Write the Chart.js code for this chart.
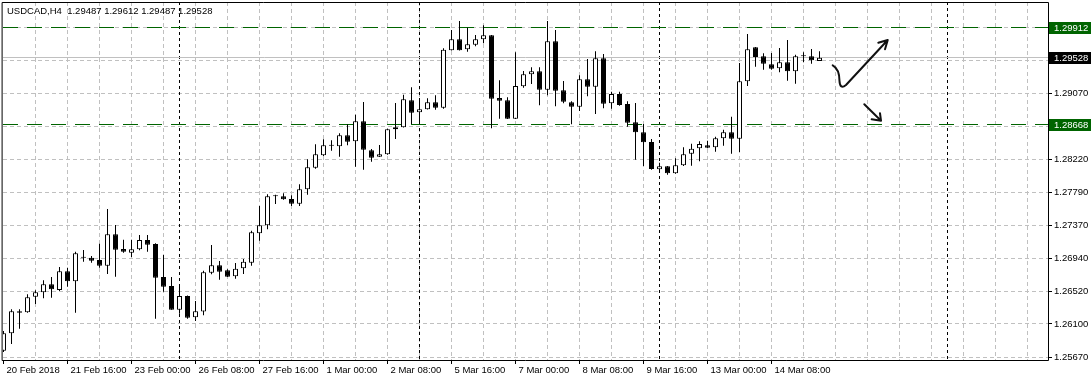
<!DOCTYPE html>
<html>
<head>
<meta charset="utf-8">
<script src="https://cdn.jsdelivr.net/npm/chart.js@4.4.1/dist/chart.umd.min.js"></script>
<style>
  html, body { margin: 0; padding: 0; background: #fff; }
  #wrap { width: 1091px; height: 381px; }
</style>
</head>
<body>
<div id="wrap"><canvas id="chart" width="1091" height="381"></canvas></div>
<script>
const symbolTitle = 'USDCAD,H4  1.29487 1.29612 1.29487 1.29528';

// USDCAD H4 candles, 20 Feb 08:00 .. 14 Mar 2018
const opens = [
  1.25755, 1.25979, 1.26263, 1.26250, 1.26451, 1.26507, 1.26610, 1.26537, 1.26778, 1.26649,
  1.26952, 1.26953, 1.26923, 1.26850, 1.27254, 1.27065, 1.27017, 1.27061, 1.27181, 1.27129,
  1.26704, 1.26588, 1.26283, 1.26460, 1.26185, 1.26260, 1.26760, 1.26855, 1.26791, 1.26713,
  1.26816, 1.26888, 1.27267, 1.27370, 1.27744, 1.27744, 1.27709, 1.27648, 1.27834, 1.28112,
  1.28272, 1.28398, 1.28388, 1.28529, 1.28452, 1.28710, 1.28336, 1.28254, 1.28285, 1.28607,
  1.28632, 1.28980, 1.28826, 1.28864, 1.28954, 1.28885, 1.29624, 1.29766, 1.29637, 1.29696,
  1.29766, 1.29817, 1.29010, 1.28980, 1.28743, 1.29160, 1.29315, 1.29354, 1.29117, 1.29740,
  1.29109, 1.28954, 1.28898, 1.29251, 1.29155, 1.29521, 1.28941, 1.29061, 1.28933, 1.28697,
  1.28568, 1.28443, 1.28091, 1.28130, 1.28040, 1.28143, 1.28292, 1.28362, 1.28401, 1.28375,
  1.28491, 1.28568, 1.28486, 1.29225, 1.29663, 1.29547, 1.29444, 1.29392, 1.29470, 1.29354,
  1.29547, 1.29547, 1.29487
];
const highs = [
  1.26009, 1.26288, 1.26288, 1.26481, 1.26533, 1.26662, 1.26704, 1.26833, 1.26824, 1.27030,
  1.27052, 1.26975, 1.27133, 1.27580, 1.27374, 1.27185, 1.27185, 1.27245, 1.27245, 1.27138,
  1.26988, 1.26704, 1.26610, 1.26465, 1.26395, 1.26785, 1.27116, 1.26910, 1.26803, 1.26885,
  1.26936, 1.27301, 1.27619, 1.27769, 1.27764, 1.27782, 1.27757, 1.27898, 1.28220, 1.28413,
  1.28478, 1.28465, 1.28555, 1.28671, 1.28795, 1.28958, 1.28353, 1.28404, 1.28614, 1.28945,
  1.29052, 1.29148, 1.29006, 1.29006, 1.29045, 1.29650, 1.29886, 1.30002, 1.29915, 1.29821,
  1.29946, 1.29822, 1.29238, 1.29019, 1.29598, 1.29358, 1.29405, 1.29405, 1.30002, 1.29886,
  1.29229, 1.28967, 1.29302, 1.29512, 1.29611, 1.29576, 1.29091, 1.29091, 1.28967, 1.28945,
  1.28675, 1.28482, 1.28176, 1.28135, 1.28233, 1.28375, 1.28421, 1.28452, 1.28460, 1.28511,
  1.28601, 1.28769, 1.29461, 1.29834, 1.29668, 1.29586, 1.29589, 1.29654, 1.29757, 1.29568,
  1.29598, 1.29641, 1.29612
];
const lows = [
  1.25738, 1.25841, 1.26038, 1.26245, 1.26357, 1.26430, 1.26438, 1.26524, 1.26579, 1.26244,
  1.26901, 1.26888, 1.26824, 1.26743, 1.26708, 1.27017, 1.26962, 1.27048, 1.27030, 1.26167,
  1.26515, 1.26283, 1.26231, 1.26167, 1.26138, 1.26211, 1.26739, 1.26670, 1.26704, 1.26682,
  1.26743, 1.26850, 1.27172, 1.27319, 1.27645, 1.27700, 1.27619, 1.27619, 1.27764, 1.28099,
  1.28263, 1.28331, 1.28254, 1.28401, 1.28125, 1.28086, 1.28189, 1.28250, 1.28280, 1.28482,
  1.28628, 1.28675, 1.28671, 1.28860, 1.28859, 1.28872, 1.29620, 1.29620, 1.29606, 1.29676,
  1.29714, 1.28620, 1.28743, 1.28740, 1.28740, 1.29142, 1.29190, 1.28916, 1.29045, 1.28903,
  1.28941, 1.28671, 1.28842, 1.29032, 1.28804, 1.28877, 1.28872, 1.28911, 1.28640, 1.28215,
  1.28134, 1.28086, 1.28053, 1.28022, 1.28035, 1.28134, 1.28138, 1.28195, 1.28362, 1.28318,
  1.28395, 1.28292, 1.28314, 1.29164, 1.29413, 1.29374, 1.29374, 1.29341, 1.29233, 1.29194,
  1.29470, 1.29452, 1.29487
];
const closes = [
  1.25979, 1.26263, 1.26244, 1.26443, 1.26507, 1.26610, 1.26546, 1.26778, 1.26649, 1.27010,
  1.26956, 1.26914, 1.26850, 1.27254, 1.27056, 1.27030, 1.27061, 1.27181, 1.27120, 1.26695,
  1.26579, 1.26283, 1.26460, 1.26180, 1.26263, 1.26765, 1.26855, 1.26773, 1.26708, 1.26811,
  1.26901, 1.27280, 1.27370, 1.27744, 1.27748, 1.27705, 1.27648, 1.27834, 1.28117, 1.28285,
  1.28401, 1.28395, 1.28529, 1.28447, 1.28710, 1.28344, 1.28241, 1.28285, 1.28607, 1.28632,
  1.28993, 1.28820, 1.28864, 1.28954, 1.28885, 1.29632, 1.29766, 1.29624, 1.29701, 1.29766,
  1.29817, 1.29001, 1.28975, 1.28743, 1.29164, 1.29315, 1.29354, 1.29117, 1.29740, 1.29104,
  1.28962, 1.28898, 1.29251, 1.29155, 1.29521, 1.28936, 1.29061, 1.28920, 1.28692, 1.28568,
  1.28439, 1.28095, 1.28130, 1.28040, 1.28143, 1.28285, 1.28357, 1.28417, 1.28370, 1.28491,
  1.28568, 1.28486, 1.29225, 1.29637, 1.29538, 1.29452, 1.29387, 1.29470, 1.29354, 1.29547,
  1.29550, 1.29495, 1.29528
];

// one label every 8 bars
const timeLabels = ['20 Feb 2018', '21 Feb 16:00', '23 Feb 00:00', '26 Feb 08:00', '27 Feb 16:00',
  '1 Mar 00:00', '2 Mar 08:00', '5 Mar 16:00', '7 Mar 00:00', '8 Mar 08:00', '9 Mar 16:00',
  '13 Mar 00:00', '14 Mar 08:00'];
const priceTicks = [1.25670, 1.26100, 1.26520, 1.26940, 1.27370, 1.27790, 1.28220, 1.28645, 1.29070, 1.29495, 1.29920];
const levels = [1.29912, 1.28668];
const separators = [22, 52, 82, 118];
const bid = closes[closes.length - 1];

// hand drawn arrows (bar index, price)
const arrowCurve = [[103.65, 1.29431], [104.5, 1.29383], [104.5, 1.29229], [104.56, 1.29113], [105.31, 1.29177], [110.53, 1.29757]];
const arrowCurveHead = [[109.35, 1.29722], [110.19, 1.29637]];
const arrowDown = [[107.6, 1.28929], [109.69, 1.28717]];
const arrowDownHead = [[108.52, 1.28735], [109.56, 1.28813]];

const gridIdx = [];
for (let i = 0; i <= 128; i += 4) gridIdx.push(i);

const font = { family: 'Liberation Sans', size: 9.5 };
const green = '#006400';

const bodyData = opens.map((o, i) => ({ x: i, y: [o, closes[i]] }));
const wickData = lows.map((l, i) => ({ x: i, y: [l, highs[i]] }));

const overlay = {
  id: 'overlay',
  beforeDatasetsDraw(chart) {
    const { ctx, chartArea: a, scales: { x, y } } = chart;
    ctx.save();
    ctx.beginPath();
    ctx.rect(a.left, a.top, a.right - a.left, a.bottom - a.top);
    ctx.clip();
    ctx.lineWidth = 1;
    // period separators
    ctx.strokeStyle = '#000';
    ctx.setLineDash([3, 3]);
    separators.forEach(s => {
      const px = Math.round(x.getPixelForValue(s) - 0.5) + 0.5;
      ctx.beginPath(); ctx.moveTo(px, a.top); ctx.lineTo(px, a.bottom); ctx.stroke();
    });
    // bid line
    ctx.setLineDash([]);
    ctx.strokeStyle = '#c0c0c0';
    let py = Math.round(y.getPixelForValue(bid) - 0.5) + 0.5;
    ctx.beginPath(); ctx.moveTo(a.left, py); ctx.lineTo(a.right, py); ctx.stroke();
    // horizontal levels
    ctx.strokeStyle = green;
    ctx.setLineDash([15, 9]);
    levels.forEach(v => {
      const p = Math.round(y.getPixelForValue(v) - 0.5) + 0.5;
      ctx.beginPath(); ctx.moveTo(a.left, p); ctx.lineTo(a.right, p); ctx.stroke();
    });
    ctx.restore();
  },
  afterDraw(chart) {
    const { ctx, chartArea: a, scales: { x, y } } = chart;
    const P = p => [x.getPixelForValue(p[0]), y.getPixelForValue(p[1])];
    ctx.save();
    // arrows
    ctx.strokeStyle = '#111';
    ctx.lineWidth = 2;
    ctx.lineCap = 'round';
    ctx.lineJoin = 'round';
    const c = arrowCurve.map(P);
    ctx.beginPath();
    ctx.moveTo(c[0][0], c[0][1]);
    ctx.quadraticCurveTo(c[1][0], c[1][1], c[2][0], c[2][1]);
    ctx.quadraticCurveTo(c[3][0], c[3][1], c[4][0], c[4][1]);
    ctx.lineTo(c[5][0], c[5][1]);
    arrowCurveHead.map(P).forEach(h => { ctx.moveTo(c[5][0], c[5][1]); ctx.lineTo(h[0], h[1]); });
    const d = arrowDown.map(P);
    ctx.moveTo(d[0][0], d[0][1]);
    ctx.lineTo(d[1][0], d[1][1]);
    arrowDownHead.map(P).forEach(h => { ctx.moveTo(d[1][0], d[1][1]); ctx.lineTo(h[0], h[1]); });
    ctx.stroke();

    // frame
    ctx.lineWidth = 1;
    ctx.strokeStyle = '#000';
    ctx.strokeRect(a.left - 0.5, a.top + 0.5, a.right - a.left + 1, a.bottom - a.top);

    // title
    ctx.font = '9.5px "Liberation Sans"';
    ctx.fillStyle = '#000';
    ctx.textBaseline = 'middle';
    ctx.textAlign = 'left';
    ctx.fillText(symbolTitle, 7, 11);

    // price badges
    const badge = (v, bg) => {
      const p = Math.round(y.getPixelForValue(v));
      ctx.fillStyle = bg;
      ctx.fillRect(a.right + 1, p - 6, chart.width - a.right - 1, 12);
      ctx.fillStyle = '#fff';
      ctx.fillText(v.toFixed(5), a.right + 6, p + 0.5);
    };
    levels.forEach(v => badge(v, green));
    badge(bid, '#000');
    ctx.restore();
  }
};

new Chart(document.getElementById('chart').getContext('2d'), {
  type: 'bar',
  data: {
    datasets: [
      {
        data: bodyData,
        grouped: false,
        barPercentage: 1,
        categoryPercentage: 1,
        maxBarThickness: 5,
        minBarLength: 1,
        inflateAmount: 0,
        borderWidth: 1,
        borderColor: '#000',
        borderSkipped: false,
        backgroundColor: ctx => {
          const i = ctx.dataIndex;
          return closes[i] - opens[i] > 0.00008 ? '#fff' : '#000';
        }
      },
      {
        data: wickData,
        grouped: false,
        barPercentage: 1,
        categoryPercentage: 1,
        maxBarThickness: 1,
        inflateAmount: 0,
        borderWidth: 0,
        backgroundColor: '#000'
      }
    ]
  },
  options: {
    responsive: false,
    animation: false,
    events: [],
    layout: { padding: { left: 3, top: 2, right: 0, bottom: 0 } },
    plugins: { legend: { display: false }, tooltip: { enabled: false } },
    scales: {
      x: {
        type: 'linear',
        offset: false,
        min: -0.0625,
        max: 130.5625,
        afterBuildTicks: s => { s.ticks = gridIdx.map(v => ({ value: v })); },
        afterFit: s => { s.height = 21; s.paddingLeft = 0; s.paddingRight = 0; },
        grid: {
          offset: false,
          color: c => (c.tick && c.tick.value === 0) ? 'rgba(0,0,0,0)' : '#c0c0c0',
          tickLength: 4,
          tickColor: c => (c.tick && c.tick.value % 8 === 0 && c.tick.value / 8 < timeLabels.length) ? '#000' : 'rgba(0,0,0,0)',
          tickBorderDash: []
        },
        border: { display: false, dash: [4, 3] },
        ticks: {
          autoSkip: false,
          maxRotation: 0,
          align: 'start',
          labelOffset: 3,
          padding: 1,
          color: '#000',
          font: font,
          callback: v => (v % 8 === 0 ? (timeLabels[v / 8] || '') : '')
        }
      },
      y: {
        position: 'right',
        min: 1.25635,
        max: 1.30246,
        afterBuildTicks: s => { s.ticks = priceTicks.map(v => ({ value: v })); },
        afterFit: s => { s.width = 43; s.paddingTop = 0; s.paddingBottom = 0; },
        grid: { color: '#c0c0c0', tickLength: 4, tickColor: '#000', tickBorderDash: [] },
        border: { display: false, dash: [4, 3] },
        ticks: { padding: 2, color: '#000', font: font, callback: v => v.toFixed(5) }
      }
    }
  },
  plugins: [overlay]
});
</script>
</body>
</html>
